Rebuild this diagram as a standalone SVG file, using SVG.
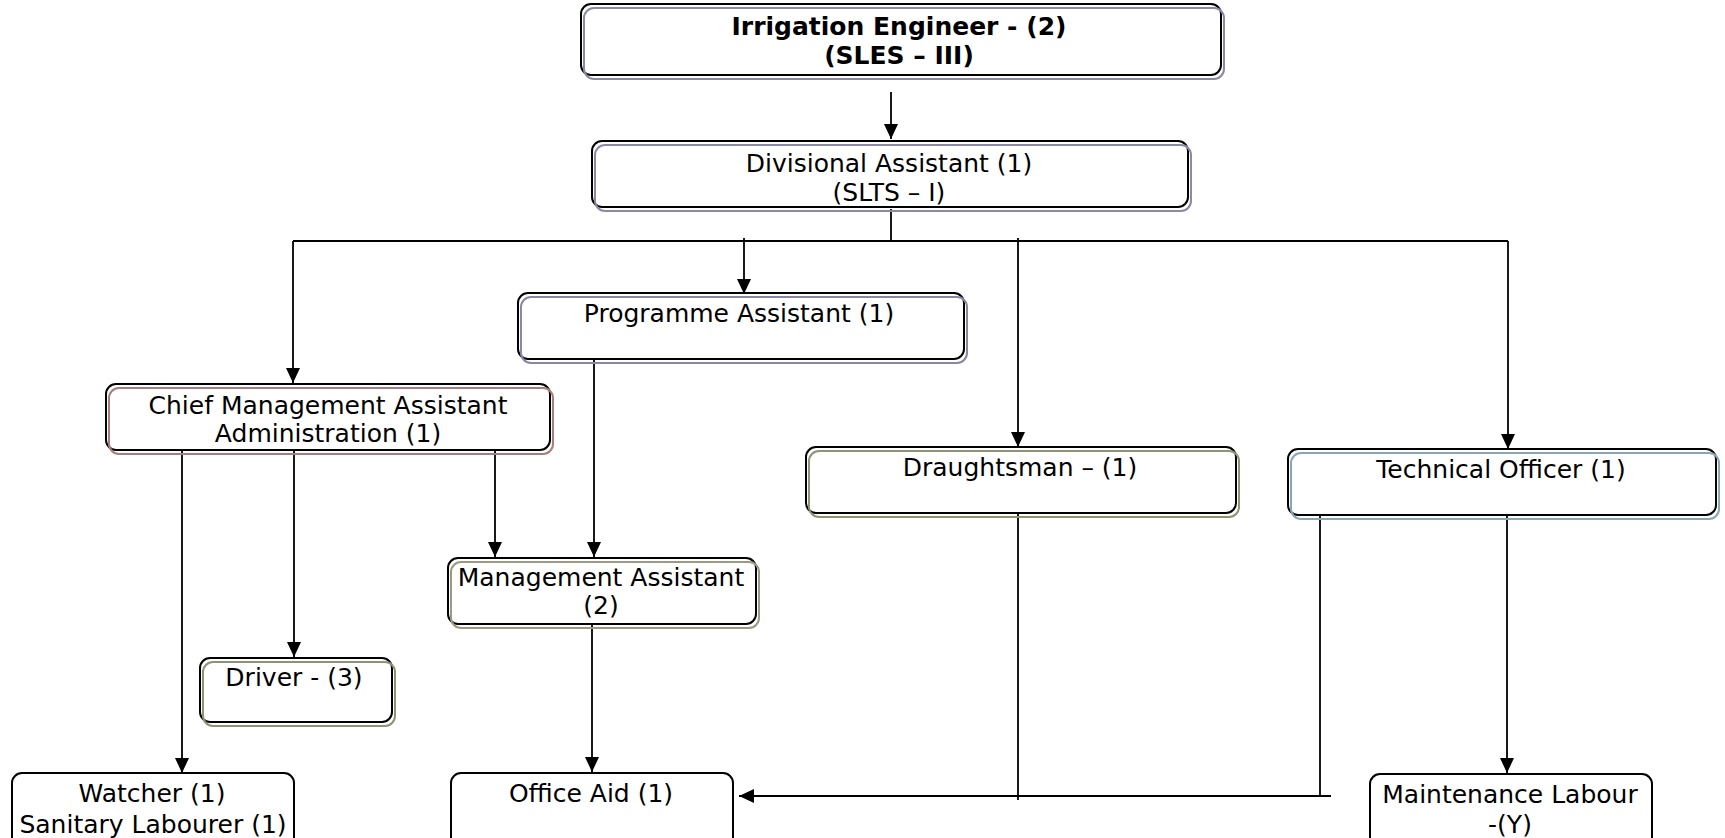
<svg xmlns="http://www.w3.org/2000/svg" width="1725" height="838" viewBox="0 0 1725 838">
  <style>
    .box { fill: #ffffff; stroke: #000000; stroke-width: 2; }
    .shade { fill: none; stroke-width: 2; }
    .lbl { font-family: "DejaVu Sans", Verdana, sans-serif; font-size: 25px; fill: #000000; text-anchor: middle; }
    .bold { font-weight: bold; }
    .wire { fill: none; stroke: #000000; stroke-width: 1.8; }
  </style>
  <defs>
    <marker id="arr" markerWidth="15" markerHeight="14" refX="15" refY="7" orient="auto" markerUnits="userSpaceOnUse">
      <path d="M0,0 L15,7 L0,14 Z" fill="#000000"/>
    </marker>
  </defs>
  <rect width="1725" height="838" fill="#ffffff"/>

  <!-- connectors -->
  <g id="connectors">
    <path class="wire" d="M891,92 V139" marker-end="url(#arr)"/>
    <path class="wire" d="M891,209 V241"/>
    <path class="wire" d="M293,241 H1508"/>
    <path class="wire" d="M293,241 V383" marker-end="url(#arr)"/>
    <path class="wire" d="M744,238 V294" marker-end="url(#arr)"/>
    <path class="wire" d="M1018,238 V447" marker-end="url(#arr)"/>
    <path class="wire" d="M1508,241 V449" marker-end="url(#arr)"/>
    <path class="wire" d="M182,450 V773" marker-end="url(#arr)"/>
    <path class="wire" d="M294,450 V657" marker-end="url(#arr)"/>
    <path class="wire" d="M495,450 V557" marker-end="url(#arr)"/>
    <path class="wire" d="M594,359 V557" marker-end="url(#arr)"/>
    <path class="wire" d="M592,624 V772" marker-end="url(#arr)"/>
    <path class="wire" d="M1018,513 V800"/>
    <path class="wire" d="M1320,513 V797"/>
    <path class="wire" d="M1331,796 H739" marker-end="url(#arr)"/>
    <path class="wire" d="M1507,515 V773" marker-end="url(#arr)"/>
  </g>

  <g id="irrigation-engineer">
    <rect class="box" x="581" y="4" width="640" height="71" rx="10"/>
    <rect class="shade" x="584" y="8" width="640" height="71" rx="10" stroke="#8a8aa6"/>
    <text class="lbl bold" x="899" y="35">Irrigation Engineer - (2)</text>
    <text class="lbl bold" x="899" y="64">(SLES – III)</text>
  </g>

  <g id="divisional-assistant">
    <rect class="box" x="592" y="141" width="596" height="66" rx="10"/>
    <rect class="shade" x="595" y="145" width="596" height="66" rx="10" stroke="#8a8aa6"/>
    <text class="lbl" x="889" y="172">Divisional Assistant (1)</text>
    <text class="lbl" x="889" y="201">(SLTS – I)</text>
  </g>

  <g id="programme-assistant">
    <rect class="box" x="518" y="293" width="446" height="66" rx="10"/>
    <rect class="shade" x="521" y="297" width="446" height="66" rx="10" stroke="#8c86a4"/>
    <text class="lbl" x="739" y="322">Programme Assistant (1)</text>
  </g>

  <g id="chief-management-assistant">
    <rect class="box" x="106" y="384" width="444" height="66" rx="10"/>
    <rect class="shade" x="109" y="388" width="444" height="66" rx="10" stroke="#a67e7e"/>
    <text class="lbl" x="328" y="414">Chief Management Assistant</text>
    <text class="lbl" x="328" y="442">Administration (1)</text>
  </g>

  <g id="draughtsman">
    <rect class="box" x="806" y="447" width="430" height="66" rx="10"/>
    <rect class="shade" x="809" y="451" width="430" height="66" rx="10" stroke="#8c9474"/>
    <text class="lbl" x="1020" y="476">Draughtsman – (1)</text>
  </g>

  <g id="technical-officer">
    <rect class="box" x="1288" y="449" width="428" height="66" rx="10"/>
    <rect class="shade" x="1291" y="453" width="428" height="66" rx="10" stroke="#88a6b6"/>
    <text class="lbl" x="1501" y="478">Technical Officer (1)</text>
  </g>

  <g id="management-assistant">
    <rect class="box" x="448" y="558" width="308" height="66" rx="10"/>
    <rect class="shade" x="451" y="562" width="308" height="66" rx="10" stroke="#9a9a82"/>
    <text class="lbl" x="601" y="586">Management Assistant</text>
    <text class="lbl" x="601" y="614">(2)</text>
  </g>

  <g id="driver">
    <rect class="box" x="200" y="658" width="192" height="64" rx="10"/>
    <rect class="shade" x="203" y="662" width="192" height="64" rx="10" stroke="#8c9474"/>
    <text class="lbl" x="294" y="686">Driver - (3)</text>
  </g>

  <g id="watcher">
    <rect class="box" x="12" y="773" width="282" height="80" rx="10"/>
    <text class="lbl" x="152" y="802">Watcher (1)</text>
    <text class="lbl" x="153" y="833">Sanitary Labourer (1)</text>
  </g>

  <g id="office-aid">
    <rect class="box" x="451" y="773" width="282" height="80" rx="10"/>
    <text class="lbl" x="591" y="802">Office Aid (1)</text>
  </g>

  <g id="maintenance-labour">
    <rect class="box" x="1370" y="774" width="282" height="80" rx="10"/>
    <text class="lbl" x="1510" y="803">Maintenance Labour</text>
    <text class="lbl" x="1510" y="833">-(Y)</text>
  </g>
</svg>
